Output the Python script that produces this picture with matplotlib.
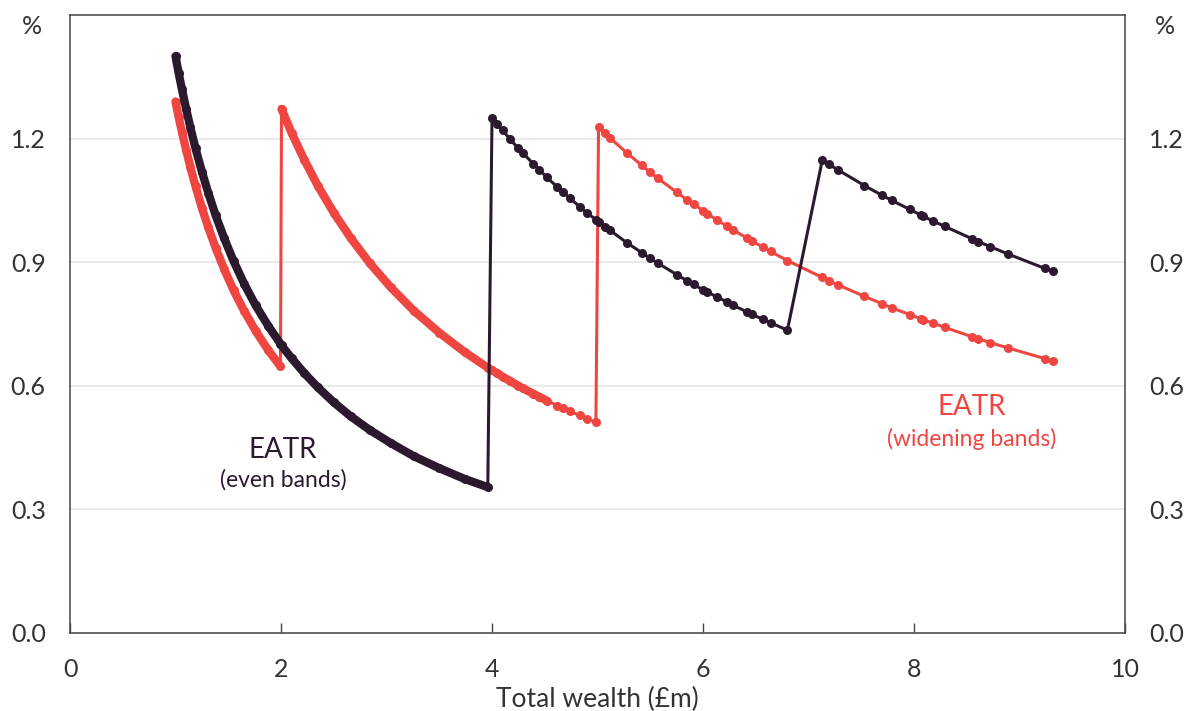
import matplotlib
matplotlib.use("Agg")
import matplotlib.pyplot as plt
import numpy as np

plt.rcParams['font.family'] = ['Lato', 'DejaVu Sans']

# Total wealth (£m) sample points shared by both series
wealth = [1.00, 1.03, 1.06, 1.10, 1.14, 1.19, 1.25, 1.31, 1.38, 1.46, 1.55, 1.65, 1.76, 1.88,
          1.995, 2.005, 2.10, 2.22, 2.35, 2.50, 2.66, 2.84, 3.04, 3.26, 3.50, 3.74, 3.96,
          4.00, 4.05, 4.10, 4.17, 4.25, 4.29, 4.39, 4.45, 4.52, 4.62, 4.67, 4.74, 4.83, 4.90,
          4.985, 5.01, 5.07, 5.12, 5.28, 5.42, 5.50, 5.57, 5.75, 5.85, 5.91, 6.00, 6.04, 6.13,
          6.23, 6.28, 6.42, 6.46, 6.57, 6.64, 6.80, 7.13, 7.19, 7.28, 7.53, 7.70, 7.79, 7.96,
          8.07, 8.09, 8.18, 8.29, 8.55, 8.61, 8.72, 8.89, 9.24, 9.32]

# EATR (%) - even bands
eatr_even = [1.400, 1.359, 1.321, 1.273, 1.228, 1.176, 1.120, 1.069, 1.014, 0.959, 0.903, 0.848,
             0.795, 0.745, 0.702, 0.698, 0.667, 0.631, 0.596, 0.560, 0.526, 0.493, 0.461, 0.429,
             0.400, 0.374, 0.354,
             1.250, 1.235, 1.220, 1.199, 1.176, 1.166, 1.139, 1.124, 1.106, 1.082, 1.071, 1.055,
             1.035, 1.020, 1.003, 0.998, 0.986, 0.977, 0.947, 0.923, 0.909, 0.898, 0.870, 0.855,
             0.846, 0.833, 0.828, 0.816, 0.803, 0.796, 0.779, 0.774, 0.761, 0.753, 0.735,
             1.147, 1.138, 1.124, 1.086, 1.062, 1.050, 1.028, 1.014, 1.011, 1.000, 0.987, 0.957,
             0.950, 0.938, 0.920, 0.885, 0.878]

# EATR (%) - widening bands
eatr_widening = [1.290, 1.252, 1.217, 1.173, 1.132, 1.084, 1.032, 0.985, 0.935, 0.884, 0.832,
                 0.782, 0.733, 0.686, 0.647,
                 1.272, 1.214, 1.149, 1.085, 1.020, 0.959, 0.898, 0.839, 0.782, 0.729, 0.682,
                 0.644, 0.638, 0.630, 0.622, 0.612, 0.600, 0.594, 0.581, 0.573, 0.564, 0.552,
                 0.546, 0.538, 0.528, 0.520, 0.512,
                 1.228, 1.213, 1.201, 1.165, 1.135, 1.118, 1.104, 1.070, 1.051, 1.041, 1.025,
                 1.018, 1.003, 0.987, 0.979, 0.958, 0.952, 0.936, 0.926, 0.904, 0.863, 0.855,
                 0.845, 0.817, 0.799, 0.789, 0.773, 0.762, 0.760, 0.752, 0.742, 0.719, 0.714,
                 0.705, 0.692, 0.666, 0.660]

x_ticks = [0, 2, 4, 6, 8, 10]
y_ticks = [0.0, 0.3, 0.6, 0.9, 1.2]

DARK = '#2b1a2e'
RED = '#ef4642'
TXT = '#333333'

fig = plt.figure(figsize=(11.95, 7.11), dpi=100)
ax = fig.add_axes([70/1195, 1 - 633/711, (1125 - 70)/1195, (633 - 15)/711])

x = np.array(wealth)
ye = np.array(eatr_even)
yw = np.array(eatr_widening)

ax.plot(x, yw, color=RED, lw=2.2, marker='o', ms=6.5, mew=0, zorder=3)
ax.plot(x, ye, color=DARK, lw=2.2, marker='o', ms=6.5, mew=0, zorder=4)

# densely sampled stretches (overlapping markers) drawn as a thick stroke, per band
thick = dict(lw=6.0, solid_capstyle='round', solid_joinstyle='round')
for lo, hi in [(0.9, 2.0), (2.0, 4.6)]:
    m = (x > lo) & (x < hi)
    ax.plot(x[m], yw[m], color=RED, zorder=3, **thick)
m = x < 3.97
ax.plot(x[m], ye[m], color=DARK, zorder=4, **thick)

ax.set_xlim(0, 10)
ax.set_ylim(0, 1.5)
ax.set_xticks(x_ticks)
ax.set_xticklabels([str(t) for t in x_ticks])
ax.set_yticks(y_ticks)
ax.set_yticklabels([f"{t:.1f}" for t in y_ticks])

ax.grid(axis='y', color='#e6e6e6', lw=1.2, zorder=0)
ax.set_axisbelow(True)

for s in ax.spines.values():
    s.set_color('#444444')
    s.set_linewidth(1.1)

ax.tick_params(axis='x', direction='in', length=7, width=1, color='#444444',
               labelsize=18, labelcolor=TXT, pad=18)
ax.tick_params(axis='y', length=0, labelsize=18, labelcolor=TXT, pad=17.5,
               left=True, right=True, labelleft=True, labelright=True)

ax.set_xlabel('Total wealth (£m)', fontsize=19, color=TXT, labelpad=4)

fig.text(32/1195, 1 - 27/711, '%', fontsize=18, color=TXT, ha='center', va='center')
fig.text(1165/1195, 1 - 27/711, '%', fontsize=18, color=TXT, ha='center', va='center')

ax.text(2.02, 0.445, 'EATR', fontsize=20, color=DARK, ha='center', va='center')
ax.text(2.02, 0.372, '(even bands)', fontsize=16.5, color=DARK, ha='center', va='center')
ax.text(8.55, 0.548, 'EATR', fontsize=20, color=RED, ha='center', va='center')
ax.text(8.55, 0.472, '(widening bands)', fontsize=16.5, color=RED, ha='center', va='center')

fig.savefig('out.png', dpi=100)
